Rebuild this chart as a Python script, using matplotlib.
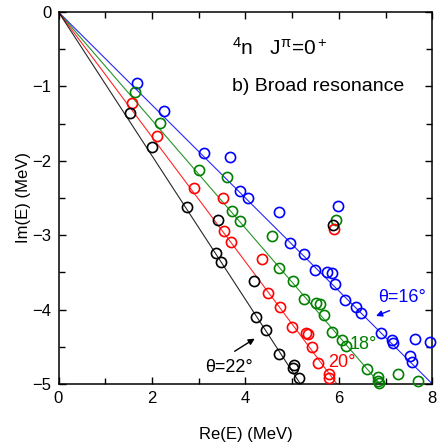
import numpy as np
import matplotlib
matplotlib.use("Agg")
import matplotlib.pyplot as plt
from matplotlib.ticker import MultipleLocator

plt.rcParams['font.family'] = ['Liberation Sans', 'DejaVu Sans']
plt.rcParams['mathtext.fontset'] = 'custom'
plt.rcParams['mathtext.rm'] = 'Liberation Sans'
plt.rcParams['mathtext.it'] = 'Liberation Sans'
plt.rcParams['mathtext.default'] = 'regular'

# scaling angles (degrees) and colours
thetas = [16, 18, 20, 22]
colors = ['#0000ff', '#008000', '#ff0000', '#000000']

# eigenvalues (Re, Im) in MeV
blue_re = [1.68, 2.26, 3.12, 3.68, 3.88, 4.06, 4.72, 5.99, 4.95, 5.25, 5.50, 5.74,
           5.85, 5.92, 6.13, 6.36, 6.47, 6.91, 7.14, 7.16, 7.64, 7.95, 7.52, 7.57]
blue_im = [-0.96, -1.33, -1.90, -1.95, -2.40, -2.50, -2.69, -2.61, -3.10, -3.25, -3.47, -3.49,
           -3.51, -3.65, -3.87, -3.96, -4.05, -4.32, -4.41, -4.45, -4.40, -4.44, -4.63, -4.71]

green_re = [1.63, 2.18, 3.01, 3.60, 3.72, 3.88, 4.57, 4.72, 5.02, 5.25, 5.52, 5.60,
            5.68, 5.86, 6.07, 6.15, 6.60, 6.83, 6.84, 6.86, 7.26, 7.70, 5.94]
green_im = [-1.08, -1.49, -2.13, -2.22, -2.68, -2.81, -3.01, -3.44, -3.62, -3.86, -3.91, -3.92,
            -4.07, -4.30, -4.41, -4.49, -4.80, -4.90, -4.96, -4.99, -4.87, -4.96, -2.80]

red_re = [1.58, 2.10, 2.89, 3.51, 3.55, 3.69, 4.36, 4.49, 4.74, 5.00, 5.30, 5.33,
          5.43, 5.55, 5.79, 5.79, 5.90]
red_im = [-1.22, -1.66, -2.37, -2.50, -2.95, -3.09, -3.32, -3.78, -3.96, -4.23, -4.32, -4.33,
          -4.50, -4.72, -4.86, -4.92, -2.92]

black_re = [1.54, 2.00, 2.75, 3.42, 3.38, 3.48, 4.19, 4.22, 4.45, 4.71, 5.04, 5.02, 5.15, 5.87]
black_im = [-1.36, -1.82, -2.62, -2.80, -3.24, -3.36, -3.62, -4.10, -4.28, -4.60, -4.74, -4.78,
            -4.92, -2.86]

series_re = [blue_re, green_re, red_re, black_re]
series_im = [blue_im, green_im, red_im, black_im]

fig = plt.figure(figsize=(4.42, 4.48), dpi=100)
ax = fig.add_axes([58.5/442, 1-384/448, (432.3-58.5)/442, (384-12)/448])

xline = np.linspace(0, 8, 200)
for th, c, xr, yi in zip(thetas, colors, series_re, series_im):
    ax.plot(xline, -np.tan(np.radians(2*th))*xline, color=c, lw=0.8, alpha=0.85, zorder=2)
    ax.plot(xr, yi, 'o', mfc='none', mec=c, ms=7.3, mew=1.2, zorder=3, clip_on=False)

ax.set_xlim(0, 8)
ax.set_ylim(-5, 0)
ax.xaxis.set_major_locator(MultipleLocator(2))
ax.xaxis.set_minor_locator(MultipleLocator(1))
ax.yaxis.set_minor_locator(MultipleLocator(0.5))
ax.set_yticks([-5, -4, -3, -2, -1, 0])
ax.set_yticklabels(['\u22125', '\u22124', '\u22123', '\u22122', '\u22121', '0'])
ax.tick_params(which='both', direction='in', top=True, right=True, labelsize=12, width=1)
ax.tick_params(which='major', length=5, pad=5)
ax.tick_params(which='minor', length=4)
for s in ax.spines.values():
    s.set_linewidth(1.1)

ax.set_xlabel('Re(E) (MeV)', fontsize=12, labelpad=15)
ax.set_ylabel('Im(E) (MeV)', fontsize=12, labelpad=1)

ax.text(0.465, 0.885, r'$^4$n   J$^{\pi}$=0$^+$', transform=ax.transAxes, fontsize=15)
ax.text(0.465, 0.787, 'b) Broad resonance', transform=ax.transAxes, fontsize=14)

ax.text(7.35, -3.84, '\u03b8=16\u00b0', color=colors[0], fontsize=13, ha='center', va='center')
ax.annotate('', xy=(6.74, -4.10), xytext=(7.14, -4.0),
            arrowprops=dict(arrowstyle='-|>', color=colors[0], lw=1, mutation_scale=9))
ax.text(6.52, -4.47, '18\u00b0', color=colors[1], fontsize=13, ha='center', va='center')
ax.text(6.07, -4.71, '20\u00b0', color=colors[2], fontsize=13, ha='center', va='center')
ax.text(3.65, -4.78, '\u03b8=22\u00b0', color=colors[3], fontsize=13, ha='center', va='center')
ax.annotate('', xy=(4.25, -4.37), xytext=(3.72, -4.58),
            arrowprops=dict(arrowstyle='-|>', color='black', lw=1, mutation_scale=9))

fig.savefig('out.png', dpi=100)
